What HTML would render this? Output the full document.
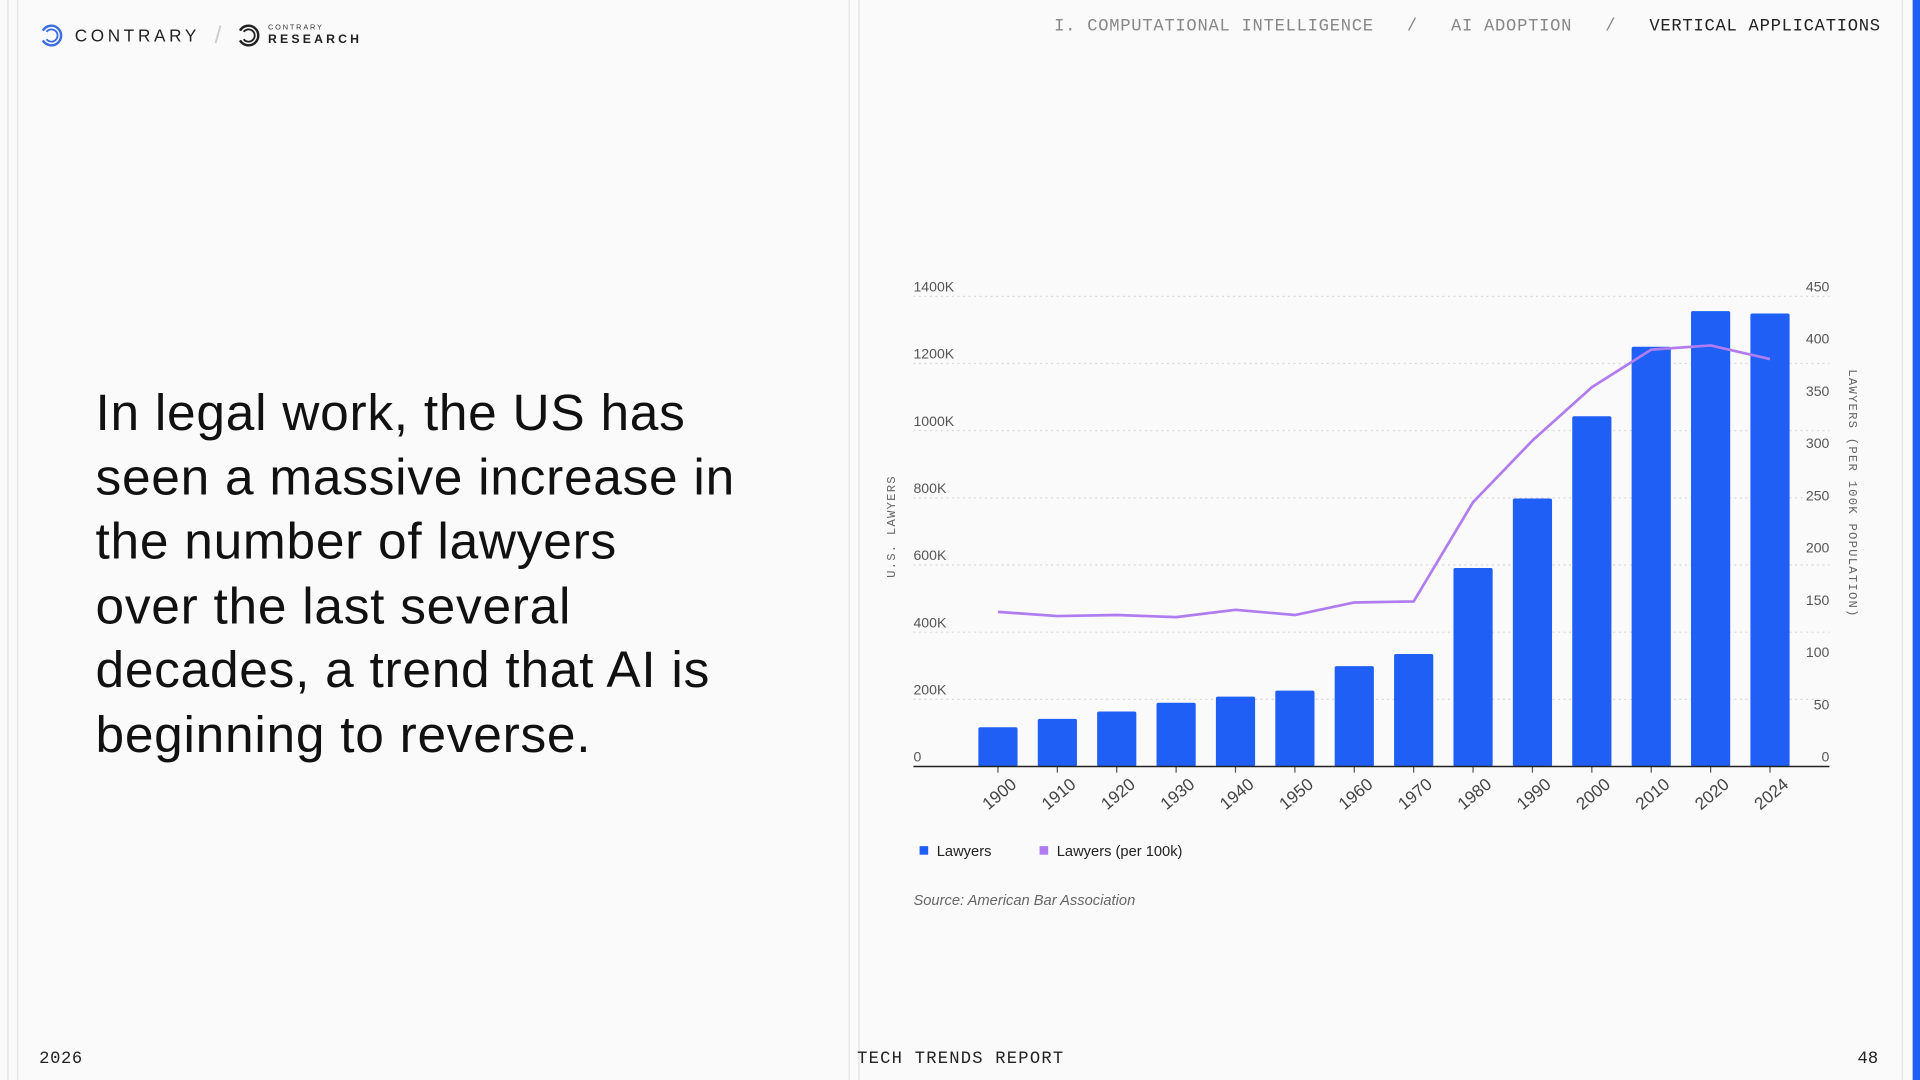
<!DOCTYPE html>
<html><head><meta charset="utf-8"><style>
html,body{margin:0;padding:0;width:1920px;height:1080px;overflow:hidden;background:#fafafa}
#wrap{position:absolute;left:0;top:0;width:1568px;height:882px;transform:scale(1.22449);transform-origin:0 0;background:#fafafa;font-family:"Liberation Sans",sans-serif}
.vl{position:absolute;top:0;height:882px;width:1px;background:#e2e2e2}
.mono{font-family:"Liberation Mono",monospace}
</style></head><body>
<div id="wrap">
<div class="vl" style="left:6px"></div>
<div class="vl" style="left:14px"></div>
<div class="vl" style="left:693px"></div>
<div class="vl" style="left:701px"></div>
<div class="vl" style="left:1553px"></div>
<div style="position:absolute;left:1562px;top:0;width:6px;height:882px;background:#1f5ff5"></div>

<div style="position:absolute;left:32px;top:19px;height:20px;display:flex;align-items:center">
<svg width="20" height="20" viewBox="0 0 20 20"><path d="M3 6 A8 8 0 1 1 3 14" fill="none" stroke="#3b6fe0" stroke-width="2"/><path d="M6 7 A5 5 0 1 1 6 13" fill="none" stroke="#3b6fe0" stroke-width="1.5"/></svg>
<span style="margin-left:9px;font-size:14px;letter-spacing:3px;color:#222">CONTRARY</span>
<span style="margin-left:12px;font-size:20px;color:#ccc">/</span>
<svg style="margin-left:12px" width="20" height="20" viewBox="0 0 20 20"><path d="M3 6 A8 8 0 1 1 3 14" fill="none" stroke="#222" stroke-width="2"/><path d="M6 7 A5 5 0 1 1 6 13" fill="none" stroke="#222" stroke-width="1.5"/></svg>
<span style="margin-left:6px;display:flex;flex-direction:column;line-height:1"><span style="font-size:6px;letter-spacing:1.5px;color:#333">CONTRARY</span><span style="font-size:10px;letter-spacing:2.6px;font-weight:bold;color:#222;margin-top:2px">RESEARCH</span></span>
</div>

<div class="mono" style="position:absolute;right:32px;top:14px;font-size:14px;letter-spacing:0.6px;color:#888;white-space:pre">I. COMPUTATIONAL INTELLIGENCE   /   AI ADOPTION   /   <span style="color:#222">VERTICAL APPLICATIONS</span></div>

<div style="position:absolute;left:78px;top:311px;white-space:nowrap;font-size:42px;letter-spacing:0.6px;line-height:52.5px;color:#111">In legal work, the US has<br>seen a massive increase in<br>the number of lawyers<br>over the last several<br>decades, a trend that AI is<br>beginning to reverse.</div>

<div class="mono" style="position:absolute;left:32px;top:857px;font-size:14px;letter-spacing:0.5px;color:#222">2026</div>
<div class="mono" style="position:absolute;left:700px;top:857px;font-size:14px;letter-spacing:1px;color:#222">TECH TRENDS REPORT</div>
<div class="mono" style="position:absolute;left:1517px;top:857px;font-size:14px;color:#222">48</div>

<svg id="chart" style="position:absolute;left:0;top:0" width="1568" height="882"></svg>
</div>
<script>
const years=['1900','1910','1920','1930','1940','1950','1960','1970','1980','1990','2000','2010','2020','2024'];
const lawyers=[117,142,164,190,208,226,299,335,591,798,1043,1250,1356,1349];
const per100k=[148,144,145,143,150,145,157,158,253,312,363,399,403,390];
const leftTicks=[0,200,400,600,800,1000,1200,1400];
const leftTickLabels=['0','200K','400K','600K','800K','1000K','1200K','1400K'];
const rightTicks=[0,50,100,150,200,250,300,350,400,450];

const NS='http://www.w3.org/2000/svg';
const svg=document.getElementById('chart');
const X0=746,X1=1494,Y0=626,Y1=242;
const yL=v=>Y0-(v/1400)*(Y0-Y1);
const yR=v=>Y0-(v/450)*(Y0-Y1);
const step=48.5,first=815;
const xC=i=>first+i*step;
function mk(tag,attrs,txt){const e=document.createElementNS(NS,tag);for(const k in attrs)e.setAttribute(k,attrs[k]);if(txt!==undefined)e.textContent=txt;svg.appendChild(e);return e;}
const F='"Liberation Sans",sans-serif';
leftTicks.forEach((t,i)=>{
  if(t>0){const g=mk('line',{x1:X0,x2:X1,y1:yL(t),y2:yL(t),stroke:'#d8d8d8','stroke-dasharray':'1.5 3'});
  
  }
  const l=mk('text',{x:X0,y:yL(t)-4,'font-size':11.5,fill:'#555','font-family':F},leftTickLabels[i]);
  
  
});
rightTicks.forEach(t=>{
  const l=mk('text',{x:X1,y:yR(t)-4,'font-size':11.5,fill:'#555','font-family':F,'text-anchor':'end'},String(t));
  
  
});
lawyers.forEach((v,i)=>{
  const r=mk('rect',{x:xC(i)-16,y:yL(v),width:32,height:Y0-yL(v),fill:'#1f5ff5',rx:1.5});
  
  
  const tk=mk('line',{x1:xC(i),x2:xC(i),y1:Y0,y2:Y0+5,stroke:'#555'});
  
  
  const lb=mk('text',{x:0,y:0,'font-size':14,fill:'#444','font-family':F,'text-anchor':'end',transform:`translate(${xC(i)+16},${Y0+16}) rotate(-40)`},years[i]);
  
  
});
const ax=mk('line',{x1:X0,x2:X1,y1:Y0,y2:Y0,stroke:'#222','stroke-width':1.2});


const pl=mk('polyline',{points:per100k.map((v,i)=>xC(i)+','+yR(v)).join(' '),fill:'none',stroke:'#b07cf0','stroke-width':2.2,'stroke-linejoin':'round'});


const yt=mk('text',{x:0,y:0,'font-size':10,fill:'#666','font-family':'"Liberation Mono",monospace','text-anchor':'middle','letter-spacing':1,transform:'translate(731,430) rotate(-90)'},'U.S. LAWYERS');


const yt2=mk('text',{x:0,y:0,'font-size':10,fill:'#666','font-family':'"Liberation Mono",monospace','text-anchor':'middle','letter-spacing':1,transform:'translate(1510,403) rotate(90)'},'LAWYERS (PER 100K POPULATION)');


const l1=mk('rect',{x:751,y:691,width:7,height:7,fill:'#1f5ff5'});


const l1t=mk('text',{x:765,y:699,'font-size':12,fill:'#222','font-family':F},'Lawyers');


const l2=mk('rect',{x:849,y:691,width:7,height:7,fill:'#b07cf0'});


const l2t=mk('text',{x:863,y:699,'font-size':12,fill:'#222','font-family':F},'Lawyers (per 100k)');


const src=mk('text',{x:746,y:739,'font-size':12,fill:'#666','font-style':'italic','font-family':F},'Source: American Bar Association');


</script>
</body></html>
